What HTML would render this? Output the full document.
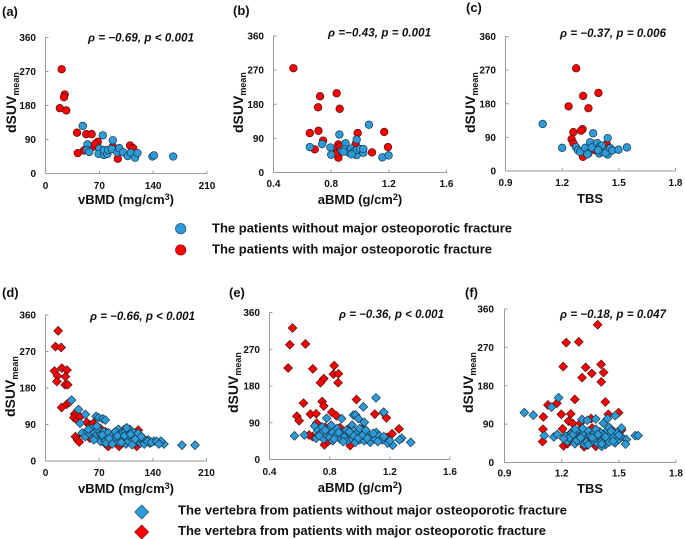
<!DOCTYPE html>
<html lang="en">
<head>
<meta charset="utf-8">
<title>dSUV mean versus bone measures</title>
<style>
html,body{margin:0;padding:0;background:#fff;}
svg{display:block;font-family:"Liberation Sans",Arial,sans-serif;font-weight:bold;fill:#111;}
.tick{font-size:10px;}
.panel{font-size:13px;}
.stat{font-size:11.5px;font-style:italic;}
.xt{font-size:13px;text-anchor:middle;}
.yt{font-size:14px;}
.sub{font-size:9px;}
.leg{font-size:13px;}
</style>
</head>
<body>
<svg id="figure" width="685" height="539" viewBox="0 0 685 539" xmlns="http://www.w3.org/2000/svg">
  <g id="marks"></g>

  <text class="panel" x="2" y="16">(a)</text>
  <text class="panel" x="233" y="15">(b)</text>
  <text class="panel" x="466" y="12">(c)</text>
  <text class="panel" x="2" y="297">(d)</text>
  <text class="panel" x="229" y="297">(e)</text>
  <text class="panel" x="465" y="297">(f)</text>

  <text class="stat" x="88" y="41.5" textLength="106">ρ = −0.69, p &lt; 0.001</text>
  <text class="stat" x="328" y="36.5" textLength="103">ρ =−0.43, p = 0.001</text>
  <text class="stat" x="560" y="37" textLength="106">ρ = −0.37, p = 0.006</text>
  <text class="stat" x="90" y="320" textLength="105">ρ = −0.66, p &lt; 0.001</text>
  <text class="stat" x="339" y="318" textLength="105">ρ = −0.36, p &lt; 0.001</text>
  <text class="stat" x="560" y="318" textLength="106">ρ = −0.18, p = 0.047</text>

  <text class="xt" x="126" y="204">vBMD (mg/cm<tspan dy="-4" font-size="9">3</tspan><tspan dy="4">)</tspan></text>
  <text class="xt" x="360" y="204">aBMD (g/cm<tspan dy="-4" font-size="9">2</tspan><tspan dy="4">)</tspan></text>
  <text class="xt" x="590" y="203">TBS</text>
  <text class="xt" x="126" y="493">vBMD (mg/cm<tspan dy="-4" font-size="9">3</tspan><tspan dy="4">)</tspan></text>
  <text class="xt" x="360" y="492">aBMD (g/cm<tspan dy="-4" font-size="9">2</tspan><tspan dy="4">)</tspan></text>
  <text class="xt" x="590" y="493">TBS</text>

  <text class="yt" transform="translate(16,133) rotate(-90)">dSUV<tspan class="sub" dy="3">mean</tspan></text>
  <text class="yt" transform="translate(243,133) rotate(-90)">dSUV<tspan class="sub" dy="3">mean</tspan></text>
  <text class="yt" transform="translate(475,133) rotate(-90)">dSUV<tspan class="sub" dy="3">mean</tspan></text>
  <text class="yt" transform="translate(15,417) rotate(-90)">dSUV<tspan class="sub" dy="3">mean</tspan></text>
  <text class="yt" transform="translate(238,413) rotate(-90)">dSUV<tspan class="sub" dy="3">mean</tspan></text>
  <text class="yt" transform="translate(473,413) rotate(-90)">dSUV<tspan class="sub" dy="3">mean</tspan></text>

  <g>
    <circle cx="180.7" cy="228.7" r="5.2" fill="#2e9bd6" stroke="#1c4f6e" stroke-width="0.7"/>
    <text class="leg" x="212" y="232.7" textLength="300">The patients without major osteoporotic fracture</text>
    <circle cx="180.7" cy="250" r="5.2" fill="#ff0000" stroke="#7a1010" stroke-width="0.7"/>
    <text class="leg" x="212" y="253.7" textLength="280">The patients with major osteoporotic fracture</text>
  </g>
  <g>
    <polygon points="134.7,512 141.7,505 148.7,512 141.7,519" fill="#2e9bd6" stroke="#1c4f6e" stroke-width="0.7"/>
    <text class="leg" x="178" y="514.3" textLength="389">The vertebra from patients without major osteoporotic fracture</text>
    <polygon points="134.7,532 141.7,525 148.7,532 141.7,539" fill="#ff0000" stroke="#7a1010" stroke-width="0.7"/>
    <text class="leg" x="178" y="535" textLength="368">The vertebra from patients with major osteoporotic fracture</text>
  </g>
</svg>
<script>
const suvTicks = [0, 90, 180, 270, 360];
const vbmdTicks = [0, 70, 140, 210];
const abmdTicks = ["0.4", "0.8", "1.2", "1.6"];
const tbsTicks = ["0.9", "1.2", "1.5", "1.8"];

const aRedX = [21, 25, 24, 18.6, 27, 41, 53, 60, 68, 42, 50, 62, 64.5, 87.5, 94, 110, 114];
const aRedY = [276, 209, 202, 173, 167, 108, 104, 104, 84, 54, 61, 71, 78, 71, 39, 74, 67];
const aBlueX = [48.5, 74.5, 87.5, 54.6, 53.7, 57, 70, 69, 76, 76, 80.5, 81.4, 86, 93.5, 96, 101, 107, 111, 116.5, 119.5, 139, 141, 166];
const aBlueY = [126, 101, 88, 77, 62, 57, 66, 52, 49, 62, 52, 62, 65, 56, 67, 56, 46, 55, 42, 54, 45, 48, 45];

const bRedX = [0.538, 0.723, 0.838, 0.709, 0.859, 0.712, 0.652, 0.984, 1.168, 0.744, 0.686, 1.083, 1.194, 0.85, 0.838, 0.85, 0.834, 0.97, 0.86];
const bRedY = [275, 201, 209, 172, 168, 110, 104, 104, 107, 84, 61, 53, 67, 74, 63, 39, 50, 75, 68];
const bBlueX = [1.062, 0.857, 0.977, 0.652, 0.737, 0.795, 0.8, 0.9, 0.873, 0.892, 0.924, 0.938, 0.954, 0.977, 0.977, 1.0, 1.023, 1.023, 1.155, 1.198, 0.885, 0.942];
const bBlueY = [126, 100, 87, 67, 75, 66, 47, 77, 57, 62, 52, 63, 55, 46, 59, 62, 52, 62, 40, 45, 55, 48];

const cRedX = [1.274, 1.392, 1.311, 1.234, 1.339, 1.308, 1.3, 1.259, 1.25, 1.26, 1.31, 1.436, 1.375];
const cRedY = [275, 209, 201, 173, 168, 112, 108, 104, 85, 74, 38, 72, 56];
const cBlueX = [1.097, 1.364, 1.441, 1.2, 1.273, 1.283, 1.295, 1.322, 1.339, 1.334, 1.348, 1.357, 1.385, 1.4, 1.396, 1.415, 1.41, 1.441, 1.43, 1.454, 1.466, 1.498, 1.543, 1.39];
const cBlueY = [126, 101, 88, 62, 64, 56, 51, 62, 47, 45, 77, 63, 75, 65, 47, 51, 68, 44, 49, 61, 55, 57, 63, 56];

const dRedX = [16.5, 13, 20.4, 21.3, 28, 11.7, 15.6, 26, 14.8, 25.6, 29, 21, 27.8, 31, 38, 37, 41, 45, 54, 58, 62.5, 71, 78, 39, 41.7, 44, 80, 82, 96, 103, 121, 119, 49.5, 58, 88.5, 127.6, 125];
const dRedY = [321, 282, 280, 229, 224, 222, 210, 208, 196, 188, 188, 132, 140, 145, 116, 107, 101, 109, 95, 89, 93, 81, 72, 60, 52, 47, 39, 36, 36, 78, 76, 36, 64, 56, 68, 56, 60];
const dBlueX = [34, 43, 52, 66, 69.4, 74.6, 78, 45, 178, 195, 154.5, 150.6, 141.5, 134, 95, 110, 48, 52, 55, 58, 60, 62, 64, 66, 68, 70, 72, 72, 75, 76, 78, 80, 82, 84, 86, 88, 90, 92, 96, 98, 100, 102, 104, 105, 107, 108, 112, 114, 115, 116, 118, 120, 122, 124, 126, 128, 130, 136, 56, 63, 67, 74, 79, 83, 87, 91, 94, 99, 103, 106, 111, 113, 117, 121, 125, 129, 133, 138, 145, 148];
const dBlueY = [150, 127, 115, 110, 107, 104, 101, 93, 39, 39, 42, 49, 49, 52, 78, 78, 69, 60, 72, 66, 80, 58, 70, 62, 78, 52, 66, 48, 58, 72, 50, 62, 70, 46, 56, 64, 50, 60, 46, 68, 56, 50, 72, 42, 62, 48, 58, 52, 70, 44, 62, 48, 55, 44, 52, 46, 50, 44, 78, 52, 86, 64, 44, 56, 42, 72, 62, 46, 62, 82, 66, 40, 54, 68, 60, 42, 48, 46, 48, 42];

const eRedX = [0.553, 0.535, 0.639, 0.524, 0.688, 0.83, 0.825, 0.858, 0.761, 0.739, 0.856, 0.626, 0.75, 0.761, 0.978, 0.672, 0.71, 0.582, 0.597, 0.814, 0.845, 1.1, 1.177, 1.157, 0.714, 0.77, 0.869, 0.847, 0.936, 1.013, 1.261, 1.215, 1.18, 0.686, 0.663, 0.765, 0.936, 0.79];
const eRedY = [322, 281, 283, 224, 222, 230, 209, 210, 198, 188, 188, 138, 142, 131, 147, 111, 112, 106, 95, 116, 107, 111, 102, 115, 89, 79, 78, 73, 79, 75, 75, 63, 54, 56, 60, 36, 34, 44];
const eBlueX = [1.108, 1.024, 0.958, 0.973, 0.78, 0.88, 0.991, 1.03, 1.16, 0.566, 0.632, 1.219, 1.339, 1.279, 1.263, 1.186, 0.7, 0.72, 0.71, 0.74, 0.75, 0.76, 0.78, 0.79, 0.8, 0.82, 0.82, 0.84, 0.85, 0.87, 0.88, 0.9, 0.91, 0.92, 0.94, 0.95, 0.95, 0.96, 0.97, 0.98, 0.99, 1.0, 1.0, 1.01, 1.03, 1.03, 1.06, 1.07, 1.08, 1.1, 1.11, 1.13, 1.15, 0.73, 0.77, 0.81, 0.83, 0.86, 0.89, 0.93, 0.96, 0.99, 1.02, 1.04, 1.05, 1.09, 1.12, 1.16, 1.2];
const eBlueY = [151, 129, 109, 109, 101, 100, 100, 91, 116, 58, 60, 35, 42, 52, 48, 40, 82, 70, 52, 64, 80, 50, 60, 72, 54, 66, 46, 58, 76, 50, 64, 56, 72, 46, 60, 84, 50, 70, 42, 58, 66, 48, 76, 56, 62, 46, 60, 42, 56, 50, 66, 58, 48, 58, 72, 84, 50, 66, 44, 68, 58, 52, 60, 72, 52, 64, 44, 56, 46];

const fRedX = [1.389, 1.224, 1.29, 1.208, 1.326, 1.407, 1.307, 1.358, 1.42, 1.408, 1.429, 1.269, 1.128, 1.175, 1.198, 1.248, 1.104, 1.499, 1.445, 1.102, 1.1, 1.205, 1.236, 1.257, 1.297, 1.354, 1.36, 1.514, 1.21, 1.318, 1.379, 1.335, 1.25, 1.3, 1.38, 1.46, 1.48, 1.23];
const fRedY = [323, 281, 283, 225, 223, 230, 199, 209, 211, 189, 142, 148, 135, 139, 113, 114, 107, 117, 113, 78, 49, 79, 97, 92, 92, 103, 81, 76, 39, 37, 38, 41, 70, 78, 70, 78, 48, 44];
const fBlueX = [1.004, 1.051, 1.147, 1.184, 1.307, 1.335, 1.379, 1.419, 1.441, 1.481, 1.109, 1.159, 1.177, 1.514, 1.54, 1.535, 1.586, 1.601, 1.22, 1.23, 1.25, 1.26, 1.27, 1.28, 1.29, 1.3, 1.31, 1.32, 1.33, 1.34, 1.35, 1.36, 1.37, 1.38, 1.39, 1.4, 1.4, 1.41, 1.42, 1.43, 1.44, 1.44, 1.45, 1.46, 1.47, 1.48, 1.49, 1.5, 1.51, 1.24, 1.33, 1.41, 1.21, 1.26, 1.28, 1.31, 1.34, 1.36, 1.38, 1.41, 1.43, 1.45, 1.47, 1.5, 1.3, 1.39, 1.46, 1.27];
const fBlueY = [117, 111, 130, 152, 101, 99, 102, 92, 103, 110, 63, 60, 66, 81, 54, 43, 63, 63, 62, 50, 68, 56, 44, 72, 60, 50, 66, 42, 56, 74, 62, 48, 68, 54, 44, 72, 60, 50, 64, 42, 76, 56, 48, 66, 58, 46, 70, 54, 62, 58, 48, 38, 56, 66, 52, 80, 42, 58, 78, 44, 60, 82, 50, 64, 58, 66, 74, 78];

const SVG_NS = "http://www.w3.org/2000/svg";
const BLUE = "#2e9bd6";
const RED = "#ff0000";
const root = document.getElementById("marks");

function makeScale(domainMin, domainMax, pixelMin, pixelMax) {
  return function (value) {
    return pixelMin + (value - domainMin) / (domainMax - domainMin) * (pixelMax - pixelMin);
  };
}

function drawLine(parent, x1, y1, x2, y2) {
  const line = document.createElementNS(SVG_NS, "line");
  line.setAttribute("x1", x1);
  line.setAttribute("y1", y1);
  line.setAttribute("x2", x2);
  line.setAttribute("y2", y2);
  line.setAttribute("stroke", "#9a9a9a");
  line.setAttribute("stroke-width", "1");
  
  
  parent.appendChild(line);
}

function drawTickLabel(parent, x, y, anchor, label) {
  const text = document.createElementNS(SVG_NS, "text");
  text.setAttribute("x", x);
  text.setAttribute("y", y);
  text.setAttribute("text-anchor", anchor);
  text.setAttribute("class", "tick");
  
  
  text.textContent = label;
  parent.appendChild(text);
}

function drawAxes(parent, panel, xLabels, xScale, yScale) {
  drawLine(parent, panel.left, panel.bottom, panel.right, panel.bottom);
  drawLine(parent, panel.left, panel.bottom, panel.left, panel.top);
  suvTicks.forEach(function (tick) {
    const y = yScale(tick);
    drawLine(parent, panel.left, y, panel.left + 3, y);
    drawTickLabel(parent, panel.yLabelRight, y + 3.5, "end", String(tick));
  });
  xLabels.forEach(function (tick) {
    const x = xScale(Number(tick));
    drawLine(parent, x, panel.bottom, x, panel.bottom - 3);
    drawTickLabel(parent, x, panel.xLabelBase, "middle", String(tick));
  });
}

function drawSeries(parent, xs, ys, xScale, yScale, shape, fill, edge, seriesName) {
  xs.forEach(function (value, i) {
    const cx = xScale(value);
    const cy = yScale(ys[i]);
    let mark;
    if (shape === "circle") {
      mark = document.createElementNS(SVG_NS, "circle");
      mark.setAttribute("cx", cx);
      mark.setAttribute("cy", cy);
      mark.setAttribute("r", 3.8);
    } else {
      mark = document.createElementNS(SVG_NS, "polygon");
      const h = 4.4;
      mark.setAttribute("points", (cx - h) + "," + cy + " " + cx + "," + (cy - h) + " " + (cx + h) + "," + cy + " " + cx + "," + (cy + h));
    }
    mark.setAttribute("fill", fill);
    mark.setAttribute("stroke", edge);
    mark.setAttribute("stroke-width", "0.7");
    
    
    parent.appendChild(mark);
  });
}

function drawPanel(panel) {
  const group = document.createElementNS(SVG_NS, "g");
  
  
  root.appendChild(group);
  const xScale = makeScale(panel.xMin, panel.xMax, panel.left, panel.right);
  const yScale = makeScale(0, 360, panel.bottom, panel.top);
  drawAxes(group, panel, panel.xLabels, xScale, yScale);
  drawSeries(group, panel.redX, panel.redY, xScale, yScale, panel.shape, RED, "#4a1010", "point-with-fracture");
  drawSeries(group, panel.blueX, panel.blueY, xScale, yScale, panel.shape, BLUE, "#15384f", "point-without-fracture");
}

drawPanel({ left: 45.5, right: 207, top: 37.5, bottom: 173.5, yLabelRight: 36, xLabelBase: 189, xMin: 0, xMax: 210, xLabels: vbmdTicks, shape: "circle", redX: aRedX, redY: aRedY, blueX: aBlueX, blueY: aBlueY });
drawPanel({ left: 273.5, right: 446.5, top: 36, bottom: 172.5, yLabelRight: 264, xLabelBase: 187, xMin: 0.4, xMax: 1.6, xLabels: abmdTicks, shape: "circle", redX: bRedX, redY: bRedY, blueX: bBlueX, blueY: bBlueY });
drawPanel({ left: 505.5, right: 675.5, top: 36.5, bottom: 171, yLabelRight: 496, xLabelBase: 186, xMin: 0.9, xMax: 1.8, xLabels: tbsTicks, shape: "circle", redX: cRedX, redY: cRedY, blueX: cBlueX, blueY: cBlueY });
drawPanel({ left: 45.5, right: 206.5, top: 315, bottom: 461, yLabelRight: 36, xLabelBase: 476, xMin: 0, xMax: 210, xLabels: vbmdTicks, shape: "diamond", redX: dRedX, redY: dRedY, blueX: dBlueX, blueY: dBlueY });
drawPanel({ left: 269.5, right: 450, top: 312.5, bottom: 459.5, yLabelRight: 260, xLabelBase: 475, xMin: 0.4, xMax: 1.6, xLabels: abmdTicks, shape: "diamond", redX: eRedX, redY: eRedY, blueX: eBlueX, blueY: eBlueY });
drawPanel({ left: 504.5, right: 676, top: 309, bottom: 462.5, yLabelRight: 494, xLabelBase: 476.5, xMin: 0.9, xMax: 1.8, xLabels: tbsTicks, shape: "diamond", redX: fRedX, redY: fRedY, blueX: fBlueX, blueY: fBlueY });
</script>
</body>
</html>
